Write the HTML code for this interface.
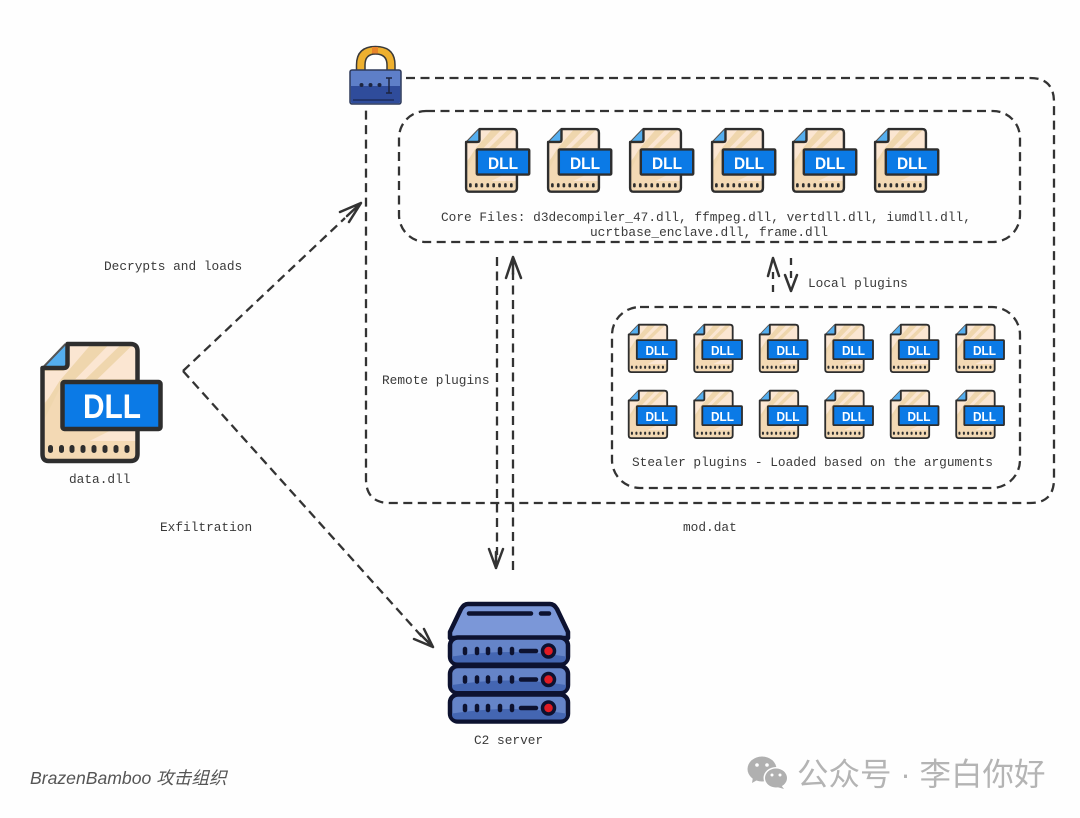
<!DOCTYPE html>
<html><head><meta charset="utf-8">
<style>
html,body{margin:0;padding:0;background:#fff}
svg{display:block;filter:blur(.35px)}
.m{font-family:"Liberation Mono",monospace;font-size:12.8px;fill:#3a3a3a}
.d{fill:none;stroke:#333;stroke-width:2.3;stroke-dasharray:9 5.500}
.h{fill:none;stroke:#333;stroke-width:2.500;stroke-linecap:round;stroke-linejoin:round}
.l{font-family:"Liberation Sans",sans-serif;font-weight:bold;fill:#fff}
</style></head><body>
<svg width="1080" height="818" viewBox="0 0 1080 818" xmlns="http://www.w3.org/2000/svg">
<defs>
<g id="file">
<path d="M3 27L26 3H91Q98 3 98 10V113Q98 120 91 120H9Q3 120 3 113Z" fill="#f3d9b4"/>
<path d="M26 3H91Q96 3 96 10V38H24L24 30Z" fill="#fbe6d2"/>
<path d="M74 88H96V100H50Z" fill="#fbe6d2"/>
<path d="M30 30 H32 L5 62V30Z" fill="#fbe6d2"/>
<path d="M50 5 H68 L34 40H20Z M80 5 H92 L56 40H44Z M20 40 H24 L5 78V64Z" fill="#efd6ad"/>
<path d="M26 3L3 27H24Q28 27 28 23V3Z" fill="#54aeef"/>
<path d="M3 27L26 3" stroke="#555" stroke-width="2" fill="none"/>
<path d="M3 27H24Q28 27 28 23V3H91Q98 3 98 10V113Q98 120 91 120H9Q3 120 3 113Z" fill="none" stroke="#2e2e2e" stroke-width="4.500" stroke-linejoin="round"/>
<g fill="#2e2e2e"><rect x="8.500" y="104" width="5" height="8" rx="2.500"/><rect x="19.500" y="104" width="5" height="8" rx="2.500"/><rect x="30" y="104" width="5" height="8" rx="2.500"/><rect x="41" y="104" width="5" height="8" rx="2.500"/><rect x="52" y="104" width="5" height="8" rx="2.500"/><rect x="63" y="104" width="5" height="8" rx="2.500"/><rect x="74" y="104" width="5" height="8" rx="2.500"/><rect x="85" y="104" width="5" height="8" rx="2.500"/></g>
<rect x="23" y="41" width="98" height="47" rx="2" fill="#0b7ae6" stroke="#2e2e2e" stroke-width="4.500"/>
</g>
<g id="row">
<rect x="450" y="0" width="118" height="27" rx="8" fill="#6584c8" stroke="#0d1230" stroke-width="4.500"/>
<path d="M452 19Q510 10 566 19V20Q566 25 560 25H458Q452 25 452 20Z" fill="#4466b2"/>
<g stroke="#0d1230" stroke-width="4.500" stroke-linecap="round"><path d="M465 11.500v4M477 11.500v4M488 11.500v4M500 11.500v4M512 11.500v4M521 13.500h15"/></g>
<circle cx="548.500" cy="13.500" r="6" fill="#e01c24" stroke="#0d1230" stroke-width="3.500"/>
</g>
</defs>
<rect width="1080" height="818" fill="#fefefe"/>

<!-- containers -->
<path class="d" d="M406 78H1030Q1054 78 1054 102V479Q1054 503 1030 503H390Q366 503 366 479V106"/>
<rect class="d" x="399" y="111" width="621" height="131" rx="27"/>
<rect class="d" x="612" y="307" width="408" height="181" rx="28"/>

<!-- connectors -->
<path class="d" d="M183 371L345 218"/><path class="h" d="M340 212L361 203 349 222M361 203L347 216"/>
<path class="d" d="M183 371L424 639"/><path class="h" d="M414 639L433 647 424 629M433 647L420 634"/>
<path class="d" d="M497 257V555"/><path class="h" d="M489 549L496 568 503 549M496 568V552"/>
<path class="d" d="M513 570V273"/><path class="h" d="M506 278L513 257 521 278M513 257V274"/>
<path class="d" style="stroke-dasharray:7 6" d="M773 292V270"/><path class="h" d="M768 276L773 258 779 276"/>
<path class="d" style="stroke-dasharray:7 6" d="M791 258V280"/><path class="h" d="M785 275L791 291 797 275"/>

<!-- big file -->
<g transform="translate(39.500 341)"><use href="#file"/></g>
<text class="l" x="83" y="418" font-size="34" textLength="58" lengthAdjust="spacingAndGlyphs">DLL</text>

<!-- core files -->
<g transform="translate(464.500 127.500) scale(.535)"><use href="#file"/></g><text class="l" x="488" y="169" font-size="17" textLength="30" lengthAdjust="spacingAndGlyphs">DLL</text>
<g transform="translate(546.500 127.500) scale(.535)"><use href="#file"/></g><text class="l" x="570" y="169" font-size="17" textLength="30" lengthAdjust="spacingAndGlyphs">DLL</text>
<g transform="translate(628.500 127.500) scale(.535)"><use href="#file"/></g><text class="l" x="652" y="169" font-size="17" textLength="30" lengthAdjust="spacingAndGlyphs">DLL</text>
<g transform="translate(710.500 127.500) scale(.535)"><use href="#file"/></g><text class="l" x="734" y="169" font-size="17" textLength="30" lengthAdjust="spacingAndGlyphs">DLL</text>
<g transform="translate(791.500 127.500) scale(.535)"><use href="#file"/></g><text class="l" x="815" y="169" font-size="17" textLength="30" lengthAdjust="spacingAndGlyphs">DLL</text>
<g transform="translate(873.500 127.500) scale(.535)"><use href="#file"/></g><text class="l" x="897" y="169" font-size="17" textLength="30" lengthAdjust="spacingAndGlyphs">DLL</text>

<!-- stealer row 1 -->
<g transform="translate(627.500 323.500) scale(.405)"><use href="#file"/></g><text class="l" x="645.500" y="355" font-size="13" textLength="23" lengthAdjust="spacingAndGlyphs">DLL</text>
<g transform="translate(693 323.500) scale(.405)"><use href="#file"/></g><text class="l" x="711" y="355" font-size="13" textLength="23" lengthAdjust="spacingAndGlyphs">DLL</text>
<g transform="translate(758.500 323.500) scale(.405)"><use href="#file"/></g><text class="l" x="776.500" y="355" font-size="13" textLength="23" lengthAdjust="spacingAndGlyphs">DLL</text>
<g transform="translate(824 323.500) scale(.405)"><use href="#file"/></g><text class="l" x="842" y="355" font-size="13" textLength="23" lengthAdjust="spacingAndGlyphs">DLL</text>
<g transform="translate(889.500 323.500) scale(.405)"><use href="#file"/></g><text class="l" x="907.500" y="355" font-size="13" textLength="23" lengthAdjust="spacingAndGlyphs">DLL</text>
<g transform="translate(955 323.500) scale(.405)"><use href="#file"/></g><text class="l" x="973" y="355" font-size="13" textLength="23" lengthAdjust="spacingAndGlyphs">DLL</text>
<!-- stealer row 2 -->
<g transform="translate(627.500 389.500) scale(.405)"><use href="#file"/></g><text class="l" x="645.500" y="421" font-size="13" textLength="23" lengthAdjust="spacingAndGlyphs">DLL</text>
<g transform="translate(693 389.500) scale(.405)"><use href="#file"/></g><text class="l" x="711" y="421" font-size="13" textLength="23" lengthAdjust="spacingAndGlyphs">DLL</text>
<g transform="translate(758.500 389.500) scale(.405)"><use href="#file"/></g><text class="l" x="776.500" y="421" font-size="13" textLength="23" lengthAdjust="spacingAndGlyphs">DLL</text>
<g transform="translate(824 389.500) scale(.405)"><use href="#file"/></g><text class="l" x="842" y="421" font-size="13" textLength="23" lengthAdjust="spacingAndGlyphs">DLL</text>
<g transform="translate(889.500 389.500) scale(.405)"><use href="#file"/></g><text class="l" x="907.500" y="421" font-size="13" textLength="23" lengthAdjust="spacingAndGlyphs">DLL</text>
<g transform="translate(955 389.500) scale(.405)"><use href="#file"/></g><text class="l" x="973" y="421" font-size="13" textLength="23" lengthAdjust="spacingAndGlyphs">DLL</text>

<!-- lock -->
<path d="M356.500 71V65Q356.500 46.500 375.500 46.500 395 46.500 395 65V71H387V65Q387 54 375.500 54 365 54 365 65V71Z" fill="#eeb02f" stroke="#3a3a3a" stroke-width="1.500"/>
<rect x="372" y="47" width="6" height="6.500" fill="#e8842a"/>
<rect x="350" y="70" width="51" height="34" rx="2" fill="#5e7fc8" stroke="#2e3a5a" stroke-width="1.500"/>
<path d="M351 86H400V102Q400 103 398 103H353Q351 103 351 102Z" fill="#2f4c9b"/>
<path d="M353 100H394" stroke="#1d2c5c" stroke-width="1.500"/>
<g fill="#1d2540"><circle cx="361.500" cy="85" r="2"/><circle cx="370.500" cy="85" r="2"/><circle cx="379.500" cy="85" r="2"/></g>
<path d="M386 78H392M389 78V93M386 93H392" stroke="#1d2540" stroke-width="1.500" fill="none"/>

<!-- server -->
<path d="M468 604H550Q554 604 557 609L568 632V638H450V632L461 609Q464 604 468 604Z" fill="#7b97d8" stroke="#0d1230" stroke-width="4.500" stroke-linejoin="round"/>
<path d="M469 613.500H531M541 613.500H549" stroke="#0d1230" stroke-width="4.500" stroke-linecap="round"/>
<g transform="translate(0 637.500)"><use href="#row"/></g>
<g transform="translate(0 666)"><use href="#row"/></g>
<g transform="translate(0 694.500)"><use href="#row"/></g>

<!-- labels -->
<text class="m" x="104" y="270">Decrypts and loads</text>
<text class="m" x="69" y="483">data.dll</text>
<text class="m" x="160" y="531">Exfiltration</text>
<text class="m" x="382" y="384">Remote plugins</text>
<text class="m" x="441" y="221">Core Files: d3decompiler_47.dll, ffmpeg.dll, vertdll.dll, iumdll.dll,</text>
<text class="m" x="590" y="236">ucrtbase_enclave.dll, frame.dll</text>
<text class="m" x="808" y="287">Local plugins</text>
<text class="m" x="632" y="466">Stealer plugins - Loaded based on the arguments</text>
<text class="m" x="683" y="531">mod.dat</text>
<text class="m" x="474" y="744">C2 server</text>

<!-- footer -->
<text x="30" y="784" font-family="'Liberation Sans','Noto Sans CJK SC',sans-serif" font-style="italic" font-size="17.600" fill="#555">BrazenBamboo 攻击组织</text>

<!-- wechat mark -->
<g fill="#b0b0b0">
<ellipse cx="762" cy="769" rx="14.500" ry="12.500"/><path d="M753 777l-1 6 7-4z"/>
</g>
<ellipse cx="776" cy="778" rx="12.500" ry="11" fill="#fff"/>
<g fill="#b0b0b0"><ellipse cx="776" cy="778" rx="11" ry="9.500"/><path d="M781 785l3 4-7-2z"/></g>
<g fill="#fff"><circle cx="757" cy="765" r="1.800"/><circle cx="767" cy="765" r="1.800"/><circle cx="772" cy="775" r="1.500"/><circle cx="780" cy="775" r="1.500"/></g>
<text x="797" y="785" font-family="'Liberation Sans','Noto Sans CJK SC',sans-serif" font-size="31.500" fill="#b4b4b4">公众号 · 李白你好</text>
</svg>
</body></html>
